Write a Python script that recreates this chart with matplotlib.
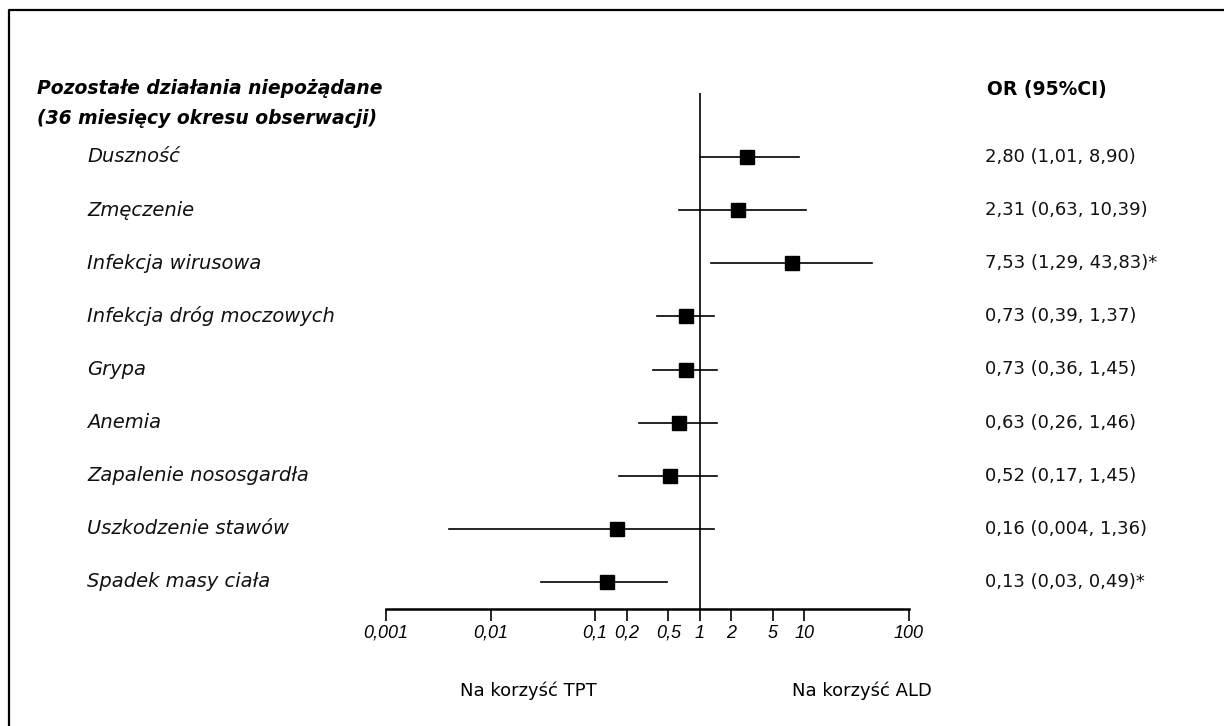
import matplotlib
matplotlib.use("Agg")
import matplotlib.pyplot as plt
from matplotlib.lines import Line2D

# dane: OR i 95% CI
labels = ["Duszność", "Zmęczenie", "Infekcja wirusowa", "Infekcja dróg moczowych",
          "Grypa", "Anemia", "Zapalenie nososgardła", "Uszkodzenie stawów",
          "Spadek masy ciała"]
or_val = [2.80, 2.31, 7.53, 0.73, 0.73, 0.63, 0.52, 0.16, 0.13]
ci_low = [1.01, 0.63, 1.29, 0.39, 0.36, 0.26, 0.17, 0.004, 0.03]
ci_high = [8.90, 10.39, 43.83, 1.37, 1.45, 1.46, 1.45, 1.36, 0.49]
or_text = ["2,80 (1,01, 8,90)", "2,31 (0,63, 10,39)", "7,53 (1,29, 43,83)*",
           "0,73 (0,39, 1,37)", "0,73 (0,36, 1,45)", "0,63 (0,26, 1,46)",
           "0,52 (0,17, 1,45)", "0,16 (0,004, 1,36)", "0,13 (0,03, 0,49)*"]
tick_vals = [0.001, 0.01, 0.1, 0.2, 0.5, 1, 2, 5, 10, 100]
tick_labels = ["0,001", "0,01", "0,1", "0,2", "0,5", "1", "2", "5", "10", "100"]

W, H = 1224, 726
fig = plt.figure(figsize=(W / 100, H / 100), dpi=100)
plt.rcParams['font.family'] = ['DejaVu Sans']

def fx(px):
    return px / W

def fy(py):
    return 1 - py / H

# osie: 0.001 -> ~386 px, 100 -> ~909 px, linia osi na 609 px, góra linii pionowej 93 px
ax = fig.add_axes([fx(386), fy(609), fx(909) - fx(386), fy(93) - fy(609)])
ax.set_xscale("log")
ax.set_xlim(0.001, 100)
n = len(labels)
ax.set_ylim(-0.508, n - 1 + 64 / 53.1)
ax.patch.set_alpha(0)
for s in ["top", "right", "left"]:
    ax.spines[s].set_visible(False)
ax.spines["bottom"].set_linewidth(1.8)
ax.set_yticks([])
ax.set_xticks(tick_vals)
ax.set_xticklabels(tick_labels, fontstyle="italic", fontsize=13, family="Liberation Sans")
ax.xaxis.set_minor_locator(matplotlib.ticker.NullLocator())
ax.tick_params(axis="x", direction="out", length=8.5, width=1.2, pad=3)

ax.axvline(1, color="black", lw=1.2)

ys = [n - 1 - i for i in range(n)]
for i in range(n):
    ax.plot([ci_low[i], ci_high[i]], [ys[i], ys[i]], color="black", lw=1.2)
ax.plot(or_val, ys, "s", color="black", markersize=10, linestyle="none")

# teksty
row_px = [157 + 53.1 * i for i in range(n)]
for i in range(n):
    fig.text(fx(87), fy(row_px[i]), labels[i], fontstyle="italic", fontsize=14,
             ha="left", va="center", color="#111111")
    fig.text(fx(985), fy(row_px[i]), or_text[i], fontsize=13, ha="left", va="center",
             color="#111111")

fig.text(fx(37), fy(88), "Pozostałe działania niepożądane", fontstyle="italic",
         fontweight="bold", fontsize=13.5, ha="left", va="center")
fig.text(fx(37), fy(118), "(36 miesięcy okresu obserwacji)", fontstyle="italic",
         fontweight="bold", fontsize=13.5, ha="left", va="center")
fig.text(fx(987), fy(89), "OR (95%CI)", fontweight="bold", fontsize=13.5,
         ha="left", va="center")

fig.text(fx(528), fy(691), "Na korzyść TPT", fontsize=13, ha="center", va="center")
fig.text(fx(862), fy(691), "Na korzyść ALD", fontsize=13, ha="center", va="center")

# ramka (lewa i górna krawędź)
fig.add_artist(Line2D([fx(9), fx(9), fx(W + 5)], [fy(H + 5), fy(10), fy(10)],
                      transform=fig.transFigure, color="black", lw=1.6))

fig.savefig("out.png", dpi=100)
